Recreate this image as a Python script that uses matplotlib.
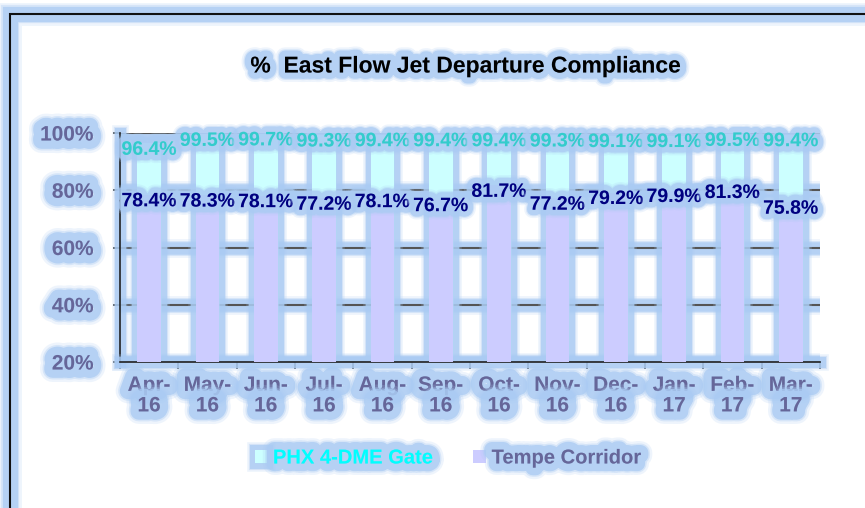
import matplotlib
matplotlib.use("Agg")
import matplotlib.pyplot as plt
import matplotlib.patheffects as pe
from matplotlib.patches import Rectangle
import numpy as np

plt.rcParams['font.family'] = ['Liberation Sans', 'DejaVu Sans']

months = ['Apr-\n16', 'May-\n16', 'Jun-\n16', 'Jul-\n16', 'Aug-\n16', 'Sep-\n16',
          'Oct-\n16', 'Nov-\n16', 'Dec-\n16', 'Jan-\n17', 'Feb-\n17', 'Mar-\n17']
phx_gate = [96.4, 99.5, 99.7, 99.3, 99.4, 99.4, 99.4, 99.3, 99.1, 99.1, 99.5, 99.4]
tempe = [78.4, 78.3, 78.1, 77.2, 78.1, 76.7, 81.7, 77.2, 79.2, 79.9, 81.3, 75.8]
yticks = [20, 40, 60, 80, 100]

glow_col = '#aacbf3'


def glow(w):
    # fake soft glow: a few wide strokes, fading outward
    return [pe.Stroke(linewidth=w * 1.5, foreground=glow_col, alpha=0.2),
            pe.Stroke(linewidth=w * 1.2, foreground=glow_col, alpha=0.35),
            pe.Stroke(linewidth=w, foreground=glow_col, alpha=0.75),
            pe.Normal()]


fig = plt.figure(figsize=(8.65, 5.08), dpi=100)

# outer frame of the chart (right/bottom edges run off the image)
frame = Rectangle((10 / 865, -0.05), 1.2, 1 - 14 / 508 + 0.05, transform=fig.transFigure,
                  fill=False, edgecolor='#111111', linewidth=1.5, zorder=0)
frame.set_path_effects(glow(11))
fig.add_artist(frame)

ax = fig.add_axes([120 / 865, 1 - 362 / 508, 700 / 865, 229 / 508])
x = np.arange(len(months))

b1 = ax.bar(x, phx_gate, width=0.41, color='#ccffff', zorder=2, label='PHX 4-DME Gate')
for b in b1:
    b.set_path_effects(glow(8))
b2 = ax.bar(x, tempe, width=0.41, color='#ccccff', zorder=3, label='Tempe Corridor')

ax.set_ylim(20, 100)
ax.set_xlim(-0.5, len(months) - 0.5)
ax.set_yticks(yticks)
ax.set_yticklabels(['%d%%' % v for v in yticks])
ax.set_xticks(x)
ax.set_xticklabels(months)
ax.set_xticks(np.arange(-0.5, len(months)), minor=True)

ax.yaxis.grid(True, color='#555555', linewidth=1.5, zorder=1)
ax.set_axisbelow(True)
for gl in ax.get_ygridlines():
    gl.set_path_effects(glow(9))

for s in ['top', 'right']:
    ax.spines[s].set_visible(False)
for s in ['left', 'bottom']:
    ax.spines[s].set_color('#222222')
    ax.spines[s].set_linewidth(1.2)
    ax.spines[s].set_path_effects(glow(8))

ax.tick_params(axis='x', which='major', length=0, pad=10)
ax.tick_params(axis='x', which='minor', length=5, width=1.2, color='#333333', direction='out')
ax.tick_params(axis='y', length=5, width=1.2, color='#333333', pad=14)

for lab in ax.get_yticklabels():
    lab.set_fontsize(15)
    lab.set_fontweight('bold')
    lab.set_color('#666699')
    lab.set_path_effects(glow(12))
for lab in ax.get_xticklabels():
    lab.set_fontsize(15)
    lab.set_fontweight('bold')
    lab.set_color('#666699')
    lab.set_linespacing(1.1)
    lab.set_path_effects(glow(12))

for xi, v in zip(x, phx_gate):
    ax.annotate('%.1f%%' % v, (xi, v), xytext=(0, -5), textcoords='offset points',
                ha='center', va='center', fontsize=14, fontweight='bold',
                color='#33cccc', zorder=5, path_effects=glow(8))
for xi, v in zip(x, tempe):
    ax.annotate('%.1f%%' % v, (xi, v), xytext=(0, -5), textcoords='offset points',
                ha='center', va='center', fontsize=14, fontweight='bold',
                color='#000080', zorder=5, path_effects=glow(8))

fig.text(465 / 865, 1 - 66 / 508, '%  East Flow Jet Departure Compliance', ha='center', va='center',
         fontsize=16.5, fontweight='bold', color='black', path_effects=glow(9))

leg = fig.legend(handles=[b1, b2], loc='center', bbox_to_anchor=(448 / 865, 1 - 458 / 508),
                 ncol=2, frameon=False, handlelength=0.6, handleheight=0.6, handletextpad=0.3,
                 columnspacing=2.0, prop={'weight': 'bold', 'size': 14.5})
leg_cols = ['#00ffff', '#666699']
for t, c in zip(leg.get_texts(), leg_cols):
    t.set_color(c)
    t.set_path_effects(glow(11))

fig.savefig('out.png', dpi=100)
